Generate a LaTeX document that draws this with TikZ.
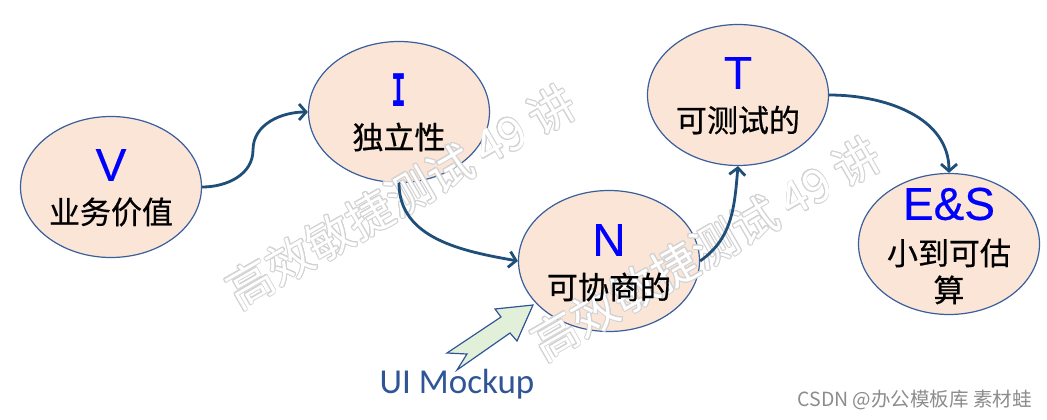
\documentclass[tikz,border=0pt]{standalone}
\usepackage{fontspec}
\usepackage{contour}
\usetikzlibrary{shapes.geometric,arrows.meta}
\newfontfamily\cjk{Noto Sans CJK SC}
\newfontfamily\cjkm[FakeBold=0.6]{Noto Sans CJK SC}
\newfontfamily\lat[FakeBold=0.4]{Liberation Sans}
\newfontfamily\uifont{Carlito}
\newfontfamily\serifI{DejaVu Sans Mono}
\definecolor{fillpeach}{HTML}{FBE5D6}
\definecolor{ellborder}{HTML}{3A5F9C}
\definecolor{arrowblue}{HTML}{1F4E79}
\definecolor{letterblue}{HTML}{0000FF}
\definecolor{mockblue}{HTML}{2F5597}
\definecolor{mockgreen}{HTML}{E2F0D9}
\definecolor{wmgray}{HTML}{D2D2D2}
\definecolor{csdngray}{HTML}{8C8C8C}
\contourlength{0.9pt}
\contournumber{16}
\begin{document}
\begin{tikzpicture}[x=1pt,y=-1pt,
  ell/.style={ellipse,draw=ellborder,line width=1.2pt,fill=fillpeach,minimum width=181pt,minimum height=141pt,inner sep=0pt},
  lettertext/.style={inner sep=0pt,text=letterblue,font=\lat\fontsize{46}{46}\selectfont},
  cjklabel/.style={inner sep=0pt,align=center,font=\cjkm\fontsize{31}{37}\selectfont},
  conn/.style={draw=arrowblue,line width=2.8pt,-{Straight Barb[length=7pt,width=16pt]}},
  wm/.style={inner sep=0pt,rotate=30,text=white,font=\cjk\fontsize{46}{46}\selectfont}]
\useasboundingbox (0,0) rectangle (1047,420);
% ellipses
\node[ell] (V) at (111,187) {};
\node[ell] (I) at (399,112) {};
\node[ell] (N) at (609,261) {};
\node[ell] (T) at (738,95) {};
\node[ell] (ES) at (949,244) {};
% watermarks
\node[wm] (wm1) at (401,197) {\contour{wmgray}{高效敏捷测试 49 讲}};
\node[wm] (wm2) at (706,249) {\contour{wmgray}{高效敏捷测试 49 讲}};
% texts
\node[lettertext] (Vl) at (111,165) {V};
\node[cjklabel] (Vt) at (111,212) {业务价值};
\node[lettertext,font=\serifI\bfseries\fontsize{45}{45}\selectfont] (Il) at (399,90) {\scalebox{0.55}[1]{I}};
\node[cjklabel] (It) at (399,137) {独立性};
\node[lettertext] (Nl) at (609,240) {N};
\node[cjklabel] (Nt) at (609,287) {可协商的};
\node[lettertext] (Tl) at (738,73) {T};
\node[cjklabel] (Tt) at (738,120) {可测试的};
\node[lettertext] (ESl) at (949,204) {E\&S};
\node[cjklabel] (ESt) at (949,271.5) {小到可估\\算};
% connectors
\draw[conn] (V.east) to[out=0,in=-90] (253,150) to[out=90,in=180] (I.west);
\draw[conn] (I.south) to[out=-90,in=170] (N.west);
\draw[conn] (N.east) to[out=35,in=-95] (T.south);
\draw[conn] (T.east) to[out=0,in=90] (ES.north);
% UI Mockup block arrow
\draw[draw=mockblue,line width=1.2pt,fill=mockgreen,line join=miter]
  (533,305) -- (495,309) -- (501,317) -- (447,353) -- (467,354) -- (457,370) -- (510,333) -- (517,341) -- cycle;
\node[anchor=base,inner sep=0pt,text=mockblue,font=\uifont\fontsize{35}{35}\selectfont] (ui) at (457,393) {UI Mockup};
\node[anchor=east,inner sep=0pt,text=csdngray,font=\cjk\fontsize{19.5}{19.5}\selectfont] (csdn) at (1032,400) {CSDN @办公模板库 素材蛙};
\end{tikzpicture}
\end{document}
